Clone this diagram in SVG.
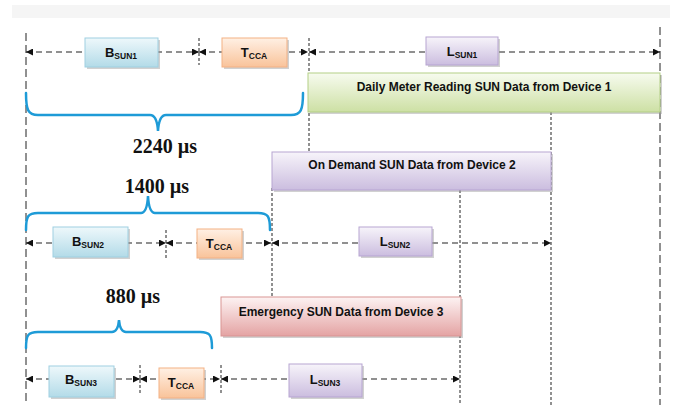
<svg xmlns="http://www.w3.org/2000/svg" width="683" height="405" viewBox="0 0 683 405">
<style>
.vl{stroke:#222;stroke-width:1;fill:none;stroke-dasharray:8 4}
.vs{stroke:#222;stroke-width:1;fill:none;stroke-dasharray:3 2}
.ar{stroke:#222;stroke-width:1.2;fill:none;stroke-dasharray:6 4;marker-start:url(#ah);marker-end:url(#ah)}
.br{stroke:#1e9bd7;stroke-width:2.5;fill:none;stroke-linecap:round}
.lb{font-family:"Liberation Sans",Arial,sans-serif;font-weight:bold;font-size:13px;fill:#111;text-anchor:middle}
.sb{font-size:8.5px}
.tt{font-family:"Liberation Sans",Arial,sans-serif;font-weight:bold;font-size:12px;fill:#111;text-anchor:middle}
.us{font-family:"Liberation Serif","Times New Roman",serif;font-weight:bold;font-size:20px;fill:#111;text-anchor:middle}
.sh{fill:#999;opacity:0.45}
</style>
<defs>
<marker id="ah" viewBox="0 0 10 10" refX="10" refY="5" markerWidth="8" markerHeight="7" markerUnits="userSpaceOnUse" orient="auto-start-reverse">
<path d="M0,0 L10,5 L0,10 z" fill="#111"/>
</marker>
<linearGradient id="gb" x1="0" y1="0" x2="0" y2="1"><stop offset="0" stop-color="#eef8fb"/><stop offset="1" stop-color="#b3dbe8"/></linearGradient>
<linearGradient id="go" x1="0" y1="0" x2="0" y2="1"><stop offset="0" stop-color="#fff0e4"/><stop offset="1" stop-color="#f9c39a"/></linearGradient>
<linearGradient id="gp" x1="0" y1="0" x2="0" y2="1"><stop offset="0" stop-color="#f7f4fa"/><stop offset="1" stop-color="#cbbddf"/></linearGradient>
<linearGradient id="gg" x1="0" y1="0" x2="0" y2="1"><stop offset="0" stop-color="#f7fbef"/><stop offset="1" stop-color="#cde0a4"/></linearGradient>
<linearGradient id="gr" x1="0" y1="0" x2="0" y2="1"><stop offset="0" stop-color="#fdf3f3"/><stop offset="1" stop-color="#e4a3a3"/></linearGradient>
</defs>
<rect x="0" y="0" width="683" height="405" fill="#fff"/>
<rect x="12" y="5" width="658" height="13" fill="#f5f5f5"/>

<g id="connectors">
<line class="vl" x1="26" y1="33" x2="26" y2="405"/>
<line class="vl" x1="660" y1="27" x2="660" y2="405"/>
<line class="vs" x1="199" y1="38" x2="199" y2="65"/>
<line class="vs" x1="309" y1="38" x2="309" y2="152"/>
<line class="vs" x1="551" y1="112" x2="551" y2="405"/>
<line class="vs" x1="272" y1="188" x2="272" y2="297"/>
<line class="vs" x1="460" y1="190" x2="460" y2="405"/>
<line class="vs" x1="166" y1="230" x2="166" y2="258"/>
<line class="vs" x1="140" y1="365" x2="140" y2="395"/>
<line class="vs" x1="221" y1="365" x2="221" y2="395"/>

<line class="ar" x1="26" y1="52" x2="199" y2="52"/>
<line class="ar" x1="199" y1="52" x2="308" y2="52"/>
<line class="ar" x1="309" y1="52" x2="660" y2="52"/>

<line class="ar" x1="26" y1="243" x2="166" y2="243"/>
<line class="ar" x1="166" y1="243" x2="271" y2="243"/>
<line class="ar" x1="272" y1="243" x2="551" y2="243"/>

<line class="ar" x1="26" y1="379" x2="140" y2="379"/>
<line class="ar" x1="140" y1="379" x2="220" y2="379"/>
<line class="ar" x1="221" y1="379" x2="460" y2="379"/>

<path class="br" d="M26,93 C26,110 28,115 38,115 L150,115 Q157,115 158,131 Q159,115 166,115 L291,115 C301,115 303,110 303,93"/>
<path class="br" d="M26,230 C26,216 28,213 38,213 L141,213 Q147,213 148,196 Q149,213 155,213 L258,213 C268,213 270,216 270,230"/>
<path class="br" d="M26,348 C26,335 28,332 38,332 L112,332 Q118,332 119,320 Q120,332 126,332 L200,332 C210,332 212,335 212,348"/>
</g>

<g id="bsun1"><rect class="sh" x="87" y="40" width="73" height="29"/><rect x="85" y="38" width="73" height="29" fill="url(#gb)" stroke="#9fd0e1"/><text class="lb" x="121" y="57">B<tspan class="sb" dy="1.5">SUN1</tspan></text></g>
<g id="tcca1"><rect class="sh" x="224" y="40" width="65" height="29"/><rect x="222" y="38" width="65" height="29" fill="url(#go)" stroke="#f3b184"/><text class="lb" x="254" y="57">T<tspan class="sb" dy="1.5">CCA</tspan></text></g>
<g id="lsun1"><rect class="sh" x="428" y="39" width="72" height="28"/><rect x="426" y="37" width="72" height="28" fill="url(#gp)" stroke="#b7a5d2"/><text class="lb" x="462" y="56">L<tspan class="sb" dy="1.5">SUN1</tspan></text></g>

<g id="device1"><rect class="sh" x="310" y="75" width="352" height="39"/><rect x="308" y="73" width="352" height="39" fill="url(#gg)" stroke="#b3cf85"/><text class="tt" x="484" y="91">Daily Meter Reading SUN Data from Device 1</text></g>

<g id="t2240"><text class="us" x="165" y="153">2240 µs</text></g>
<g id="t1400"><text class="us" x="157" y="193">1400 µs</text></g>

<g id="device2"><rect class="sh" x="274" y="154" width="279" height="38"/><rect x="272" y="152" width="279" height="38" fill="url(#gp)" stroke="#b7a5d2"/><text class="tt" x="412" y="169">On Demand SUN Data from Device 2</text></g>

<g id="bsun2"><rect class="sh" x="55" y="229" width="75" height="30"/><rect x="53" y="227" width="75" height="30" fill="url(#gb)" stroke="#9fd0e1"/><text class="lb" x="88" y="246">B<tspan class="sb" dy="1.5">SUN2</tspan></text></g>
<g id="tcca2"><rect class="sh" x="199" y="231" width="45" height="29"/><rect x="197" y="229" width="45" height="29" fill="url(#go)" stroke="#f3b184"/><text class="lb" x="219" y="248">T<tspan class="sb" dy="1.5">CCA</tspan></text></g>
<g id="lsun2"><rect class="sh" x="361" y="229" width="73" height="29"/><rect x="359" y="227" width="73" height="29" fill="url(#gp)" stroke="#b7a5d2"/><text class="lb" x="395" y="246">L<tspan class="sb" dy="1.5">SUN2</tspan></text></g>

<g id="t880"><text class="us" x="133" y="303">880 µs</text></g>

<g id="device3"><rect class="sh" x="223" y="299" width="240" height="39"/><rect x="221" y="297" width="240" height="39" fill="url(#gr)" stroke="#d99594"/><text class="tt" x="341" y="316">Emergency SUN Data from Device 3</text></g>

<g id="bsun3"><rect class="sh" x="51" y="368" width="65" height="31"/><rect x="49" y="366" width="65" height="31" fill="url(#gb)" stroke="#9fd0e1"/><text class="lb" x="81" y="384">B<tspan class="sb" dy="1.5">SUN3</tspan></text></g>
<g id="tcca3"><rect class="sh" x="161" y="370" width="45" height="30"/><rect x="159" y="368" width="45" height="30" fill="url(#go)" stroke="#f3b184"/><text class="lb" x="181" y="387">T<tspan class="sb" dy="1.5">CCA</tspan></text></g>
<g id="lsun3"><rect class="sh" x="291" y="366" width="73" height="33"/><rect x="289" y="364" width="73" height="33" fill="url(#gp)" stroke="#b7a5d2"/><text class="lb" x="325" y="384">L<tspan class="sb" dy="1.5">SUN3</tspan></text></g>
</svg>
